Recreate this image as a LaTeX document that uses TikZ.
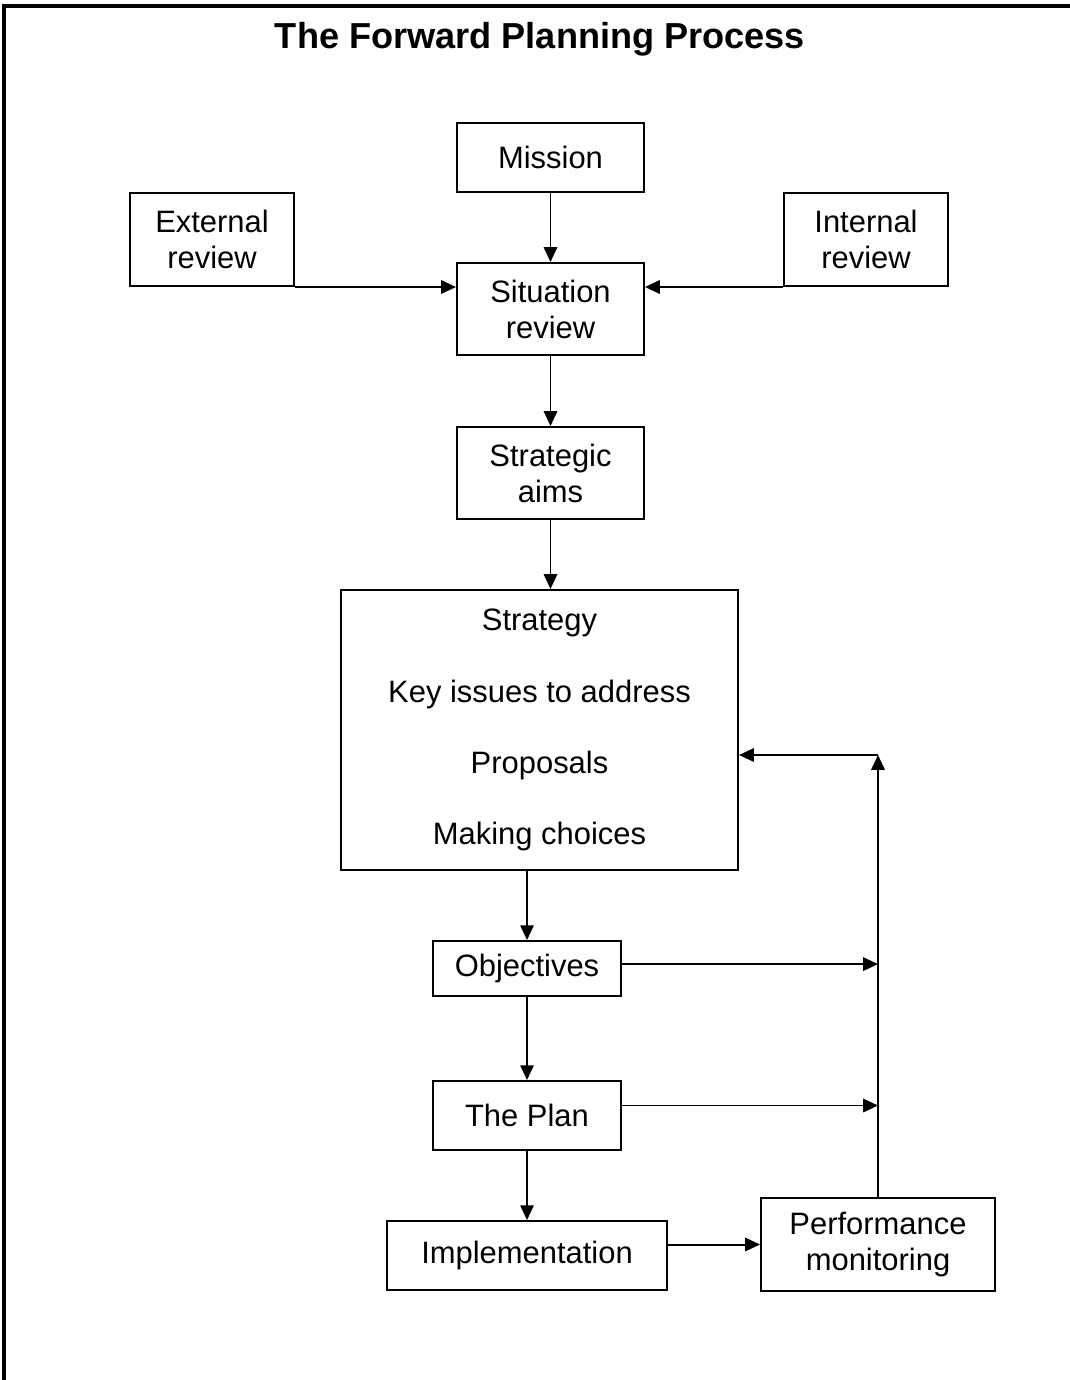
\documentclass[tikz,border=0pt]{standalone}
\usepackage{fontspec}
\setmainfont{Liberation Sans}
\usetikzlibrary{arrows.meta}
\tikzset{
  stage/.style={draw, line width=1.4pt, align=center, inner sep=0pt,
    font=\fontsize{22}{25.6}\selectfont},
  flow/.style={line width=1.4pt, -{Triangle[length=10.5pt,width=9.5pt]}},
}
\begin{document}
\begin{tikzpicture}[x=0.025cm, y=-0.025cm]
    \useasboundingbox (0,0) rectangle (1070,1380);
    % frame, cut at right and bottom
    \draw[line width=2.2pt] (4,1380) -- (4,6) -- (1070,6);
    \node[font=\bfseries\fontsize{25.7}{30}\selectfont] (title) at (540,39) {The Forward Planning Process};

    \node[stage, minimum width=4.675cm, minimum height=1.725cm] (mission) at (550.5,157.5) {Mission};
    \node[stage, minimum width=4.1cm, minimum height=2.325cm] (ext) at (212,239.5) {External\\review};
    \node[stage, minimum width=4.1cm, minimum height=2.325cm] (int) at (866,239.5) {Internal\\review};
    \node[stage, minimum width=4.675cm, minimum height=2.3cm] (sit) at (550.5,309) {Situation\\review};
    \node[stage, minimum width=4.675cm, minimum height=2.3cm] (aims) at (550.5,473) {Strategic\\aims};
    \node[stage, minimum width=9.925cm, minimum height=7cm] (strat) at (539.5,730)
      {Strategy\\[25pt]Key issues to address\\[25pt]Proposals\\[25pt]Making choices};
    \node[stage, minimum width=4.7cm, minimum height=1.375cm] (obj) at (527,968.5) {Objectives};
    \node[stage, minimum width=4.7cm, minimum height=1.725cm] (plan) at (527,1115.5) {The Plan};
    \node[stage, minimum width=7cm, minimum height=1.725cm] (impl) at (527,1255.5) {Implementation};
    \node[stage, minimum width=5.85cm, minimum height=2.325cm] (perf) at (878,1244.5) {Performance\\monitoring};
    \coordinate (fb) at (878,755);

    \draw[flow] (mission) -- (sit);
    \draw[flow] (ext.south east) -- (ext.south east -| sit.west);
    \draw[flow] (int.south west) -- (int.south west -| sit.east);
    \draw[flow] (sit) -- (aims);
    \draw[flow] (aims.south) -- (aims.south |- strat.north);
    \draw[flow] (obj.north |- strat.south) -- (obj.north);
    \draw[flow] (obj) -- (plan);
    \draw[flow] (plan) -- (impl);
    \draw[flow] (perf.west -| impl.east) -- (perf.west);
    % feedback loop
    \draw[flow] (perf.north) -- (fb);
    \draw[flow] (fb) -- (fb -| strat.east);
    \draw[flow] ([yshift=0.11cm]obj.east) -- ([yshift=0.11cm]obj.east -| perf.north);
    \draw[flow] ([yshift=0.25cm]plan.east) -- ([yshift=0.25cm]plan.east -| perf.north);
\end{tikzpicture}
\end{document}
